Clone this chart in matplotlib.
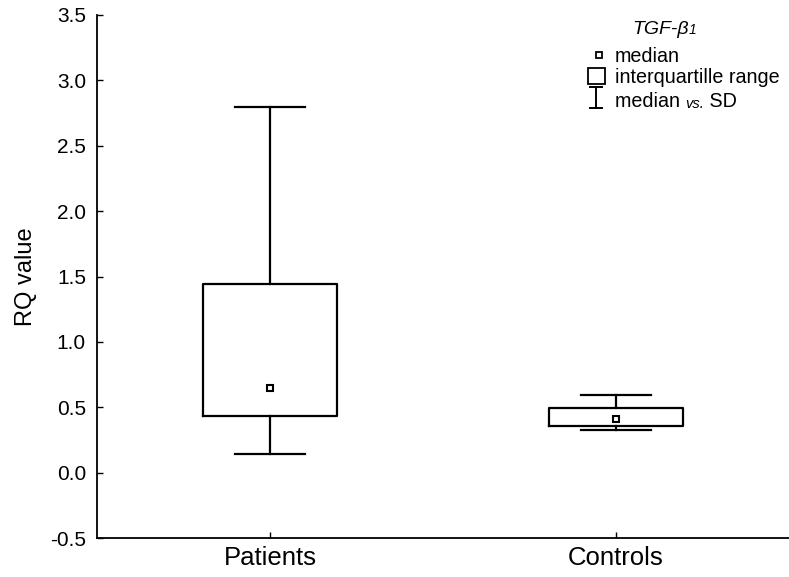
import matplotlib
matplotlib.use("Agg")
import matplotlib.pyplot as plt
from matplotlib.patches import Rectangle

plt.rcParams['font.family'] = ['Liberation Sans', 'DejaVu Sans']

# ---- data ----
groups = ["Patients", "Controls"]
medians = [0.65, 0.41]
q1 = [0.43, 0.355]
q3 = [1.445, 0.495]
whisk_lo = [0.145, 0.325]
whisk_hi = [2.795, 0.595]
yticks = [-0.5, 0.0, 0.5, 1.0, 1.5, 2.0, 2.5, 3.0, 3.5]
ytick_labels = ["-0.5", "0.0", "0.5", "1.0", "1.5", "2.0", "2.5", "3.0", "3.5"]

fig = plt.figure(figsize=(7.89, 5.77), dpi=100)
ax = fig.add_axes([97/789, 39/577, 692/789, 523/577])

positions = list(range(1, len(groups) + 1))
stats = []
for g, m, a, b, lo, hi in zip(groups, medians, q1, q3, whisk_lo, whisk_hi):
    stats.append(dict(label=g, med=m, q1=a, q3=b, whislo=lo, whishi=hi, fliers=[]))

lw = 1.6
ax.bxp(stats, positions=positions, widths=0.39, capwidths=0.2,
       showfliers=False,
       boxprops=dict(color='black', linewidth=lw),
       whiskerprops=dict(color='black', linewidth=lw),
       capprops=dict(color='black', linewidth=lw),
       medianprops=dict(linestyle='none'))
ax.plot(positions, medians, linestyle='none', marker='s', markersize=5,
        markerfacecolor='white', markeredgecolor='black', markeredgewidth=1.5,
        zorder=5)

ax.set_xlim(0.5, 2.5)
ax.set_ylim(-0.5, 3.5)
ax.set_yticks(yticks)
ax.set_yticklabels(ytick_labels)
ax.set_xticks(positions)
ax.set_xticklabels(groups)

for s in ['top', 'right']:
    ax.spines[s].set_visible(False)
for s in ['left', 'bottom']:
    ax.spines[s].set_linewidth(1.3)
ax.tick_params(axis='both', direction='in', length=4, width=1.0)
ax.tick_params(axis='y', labelsize=15, pad=8)
ax.tick_params(axis='x', labelsize=18.5, pad=6)
ax.set_ylabel("RQ value", fontsize=17, labelpad=9)

# ---- legend (axes pixel conversions) ----
def fx(px):
    return (px - 97) / 692
def fy(py):
    return (538 - py) / 523

tr = ax.transAxes
lfs = 14.2
t = ax.text(fx(660), fy(34), "TGF-β", style='italic', fontsize=14,
            ha='center', va='baseline', transform=tr)
ax.annotate("1", xy=(1, 0.08), xycoords=t, style='italic', fontsize=10,
            ha='left', va='bottom')

ax.plot([fx(599)], [fy(55)], marker='s', markersize=4, markerfacecolor='white',
        markeredgecolor='black', markeredgewidth=1.3, transform=tr, clip_on=False)
ax.text(fx(615), fy(62), "median", fontsize=lfs, ha='left', va='baseline', transform=tr)

ax.add_patch(Rectangle((fx(588), fy(84)), fx(605) - fx(588), fy(68) - fy(84),
                       transform=tr, facecolor='white', edgecolor='black',
                       linewidth=1.3, clip_on=False))
ax.text(fx(615), fy(83), "interquartille range", fontsize=lfs, ha='left',
        va='baseline', transform=tr)

ax.plot([fx(596), fx(596)], [fy(87), fy(108)], color='black', lw=1.4, transform=tr, clip_on=False)
ax.plot([fx(590), fx(602)], [fy(87), fy(87)], color='black', lw=1.4, transform=tr, clip_on=False)
ax.plot([fx(590), fx(602)], [fy(108), fy(108)], color='black', lw=1.4, transform=tr, clip_on=False)
t1 = ax.text(fx(615), fy(107), "median ", fontsize=lfs, ha='left', va='baseline',
             transform=tr)
t2 = ax.annotate("vs.", xy=(1, 0), xycoords=t1, style='italic', fontsize=10.5,
                 ha='left', va='bottom')
ax.annotate(" SD", xy=(1, 0), xycoords=t2, fontsize=lfs, ha='left', va='bottom')

fig.savefig("out.png", dpi=100)
